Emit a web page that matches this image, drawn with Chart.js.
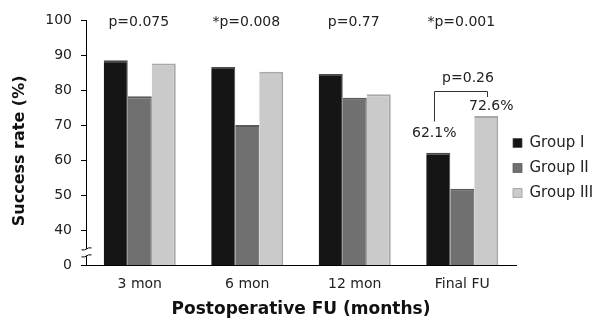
<!DOCTYPE html>
<html>
<head>
<meta charset="utf-8">
<script src="https://cdn.jsdelivr.net/npm/chart.js@4.4.1/dist/chart.umd.min.js"></script>
<style>
  html, body { margin: 0; padding: 0; background: #fff; }
  #wrap { width: 602px; height: 324px; }
</style>
</head>
<body>
<div id="wrap"><canvas id="successChart" width="602" height="324"></canvas></div>
<script>
const categories = ["3 mon", "6 mon", "12 mon", "Final FU"];
const groupI = [88.5, 86.6, 84.6, 62.1];
const groupII = [78.2, 70.0, 77.8, 51.8];
const groupIII = [87.6, 85.2, 78.8, 72.6];
const pValues = ["p=0.075", "*p=0.008", "p=0.77", "*p=0.001"];
const finalLabels = ["62.1%", "72.6%"];
const finalP = "p=0.26";
// the axis is broken: 30 is drawn as "0"
const yMin = 30, yMax = 100, yStep = 10;

const FONT = "'DejaVu Sans', Verdana, sans-serif";

// legend sits tight to the plot, a bit over its right end
const legendFit = {
    id: "legendFit",
    beforeLayout(chart) {
        const lg = chart.legend;
        if (lg && !lg._fixed) {
            const fit = lg.fit;
            lg.fit = function () { fit.call(this); this.width = 86; };
            lg._fixed = true;
        }
    },
    afterLayout(chart) {
        const lg = chart.legend;
        lg.left -= 13;
        lg.top -= 4; lg.bottom -= 4;
    }
};

// p-values, the bracket for final FU and the axis break
const notes = {
    id: "notes",
    afterDatasetsDraw(chart) {
        const ctx = chart.ctx;
        const x = chart.scales.x, y = chart.scales.y;
        ctx.save();
        ctx.fillStyle = "#222";
        ctx.font = "14px " + FONT;
        ctx.textAlign = "center";
        ctx.textBaseline = "middle";
        categories.forEach((c, i) => {
            ctx.fillText(pValues[i], x.getPixelForValue(i) - 1, y.getPixelForValue(99.3));
        });

        const last = categories.length - 1;
        const b1 = chart.getDatasetMeta(0).data[last];
        const b3 = chart.getDatasetMeta(2).data[last];
        const left = Math.round(b1.x) - 3.5, right = Math.round(b3.x) + 1.5;
        ctx.fillText(finalLabels[0], b1.x - 4, y.getPixelForValue(groupI[last] + 5.6));
        ctx.fillText(finalLabels[1], b3.x + 5, y.getPixelForValue(groupIII[last] + 2.8));
        ctx.fillText(finalP, (left + right) / 2 + 7, y.getPixelForValue(83.2));

        ctx.strokeStyle = "#333";
        ctx.lineWidth = 1;
        const top = Math.round(y.getPixelForValue(79.6)) + 0.5;
        ctx.beginPath();
        ctx.moveTo(left, y.getPixelForValue(71));
        ctx.lineTo(left, top);
        ctx.lineTo(right, top);
        ctx.lineTo(right, y.getPixelForValue(78));
        ctx.stroke();

        // break marks on the y axis
        const ax = Math.round(y.right) + 0.5;
        const y1 = y.getPixelForValue(34.6), y2 = y.getPixelForValue(32.6);
        ctx.fillStyle = "#fff";
        ctx.fillRect(ax - 2, y1, 4, y2 - y1);
        ctx.strokeStyle = "#000";
        [y1, y2].forEach(yy => {
            ctx.beginPath();
            ctx.moveTo(ax - 5, yy + 1);
            ctx.lineTo(ax - 2, yy + 1);
            ctx.lineTo(ax + 2, yy - 1);
            ctx.lineTo(ax + 5, yy - 1);
            ctx.stroke();
        });
        ctx.restore();
    }
};

new Chart(document.getElementById("successChart"), {
    type: "bar",
    data: {
        labels: categories,
        datasets: [{
            label: "Group I",
            data: groupI,
            backgroundColor: "#151515",
            borderColor: "#4a4a4a",
            borderWidth: { top: 2, left: 0, right: 1, bottom: 0 }
        }, {
            label: "Group II",
            data: groupII,
            backgroundColor: "#707070",
            borderColor: "#5a5a5a",
            borderWidth: { top: 2, left: 0, right: 1, bottom: 0 }
        }, {
            label: "Group III",
            data: groupIII,
            backgroundColor: "#cacaca",
            borderColor: "#a8a8a8",
            borderWidth: { top: 2, left: 0, right: 2, bottom: 0 }
        }]
    },
    options: {
        responsive: false,
        animation: false,
        layout: { padding: { top: 20, left: 0, right: 0, bottom: 0 } },
        datasets: { bar: { categoryPercentage: 0.67, barPercentage: 1.0 } },
        plugins: {
            tooltip: { enabled: false },
            legend: {
                position: "right",
                align: "center",
                labels: {
                    font: { family: FONT, size: 15 },
                    color: "#222",
                    boxWidth: 9,
                    boxHeight: 9,
                    padding: 10
                }
            }
        },
        scales: {
            x: {
                grid: { display: false },
                border: { color: "#000", width: 1 },
                ticks: { font: { family: FONT, size: 14 }, color: "#222", padding: 3 },
                title: {
                    display: true,
                    text: "Postoperative FU (months)",
                    font: { family: FONT, size: 17, weight: "bold" },
                    color: "#111",
                    padding: { top: 8 }
                },
                afterFit: s => { s.height = 59; }
            },
            y: {
                min: yMin,
                max: yMax,
                grid: { drawOnChartArea: false, drawTicks: true, tickLength: 5, color: "#000" },
                border: { color: "#000", width: 1 },
                ticks: {
                    stepSize: yStep,
                    font: { family: FONT, size: 14 },
                    color: "#222",
                    padding: 9,
                    callback: v => (v === yMin ? "0" : v)
                },
                title: {
                    display: true,
                    text: "Success rate (%)   ",
                    font: { family: FONT, size: 16, weight: "bold" },
                    color: "#111",
                    padding: { top: 10, bottom: 0 }
                },
                afterFit: s => { s.width = 86; }
            }
        }
    },
    plugins: [legendFit, notes]
});
</script>
</body>
</html>
